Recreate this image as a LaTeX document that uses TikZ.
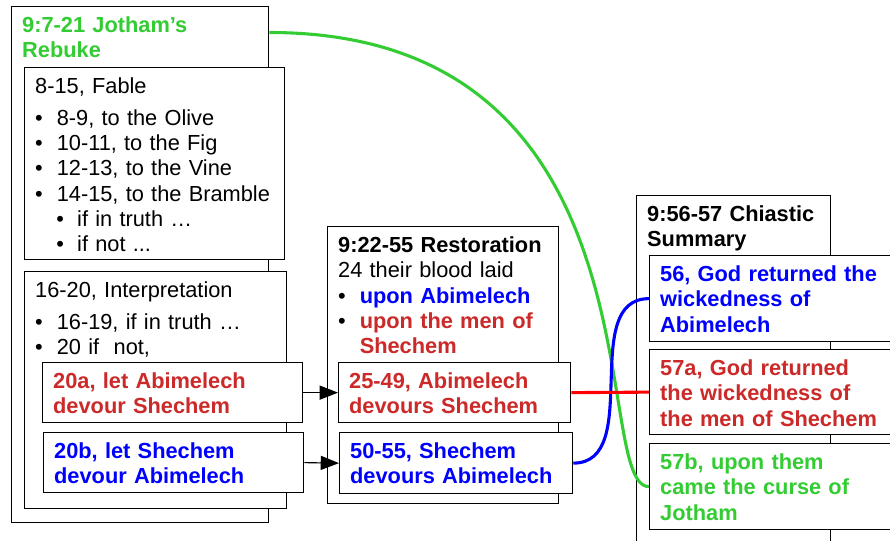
\documentclass[tikz,border=0pt]{standalone}
\usepackage{fontspec}
\setmainfont{Liberation Sans}
\usepackage{tikz}
\usetikzlibrary{arrows.meta}
\usepackage{xcolor}

\definecolor{rubricRed}{RGB}{204,41,41}
\definecolor{wickedBlue}{RGB}{0,0,255}
\definecolor{curseGreen}{RGB}{51,204,51}
\definecolor{lineRed}{RGB}{255,0,0}

\newcommand{\itemdot}{\makebox[0.54cm][l]{\textbullet}}
\newcommand{\itemgap}{\makebox[0.54cm][l]{}}
\newcommand{\subdot}{\hspace*{0.53cm}\makebox[0.52cm][l]{\textbullet}}

\tikzset{
  panel/.style 2 args={draw, line width=0.9pt, fill=white, anchor=north west, align=left,
    inner xsep=7.5pt, inner ysep=7.4pt, text height=11pt,
    text width=#1cm-15pt, text depth=#2cm-25.8pt,
    font=\fontsize{15.5pt}{18pt}\selectfont},
  link/.style={line width=2.2pt},
}

\begin{document}
\begin{tikzpicture}
        \useasboundingbox (0,0) rectangle (22.25,13.5);
        \clip (0,0) rectangle (22.25,13.5);

        % Jotham's Rebuke
        \node[panel={6.425}{12.9}, text=curseGreen, font=\fontsize{15.5pt}{18pt}\selectfont\bfseries] (jotham) at (0.275,13.35)
            {9:7-21 Jotham’s\\Rebuke};
        \node[panel={6.5}{4.8}] (fable) at (0.6,11.825)
            {8-15, Fable\\[4.5pt]
             \itemdot 8-9, to the Olive\\
             \itemdot 10-11, to the Fig\\
             \itemdot 12-13, to the Vine\\
             \itemdot 14-15, to the Bramble\\
             \subdot if in truth …\\
             \subdot if not ...};
        \node[panel={6.55}{5.925}] (interp) at (0.6,6.725)
            {16-20, Interpretation\\[4.5pt]
             \itemdot 16-19, if in truth …\\
             \itemdot 20 if \ not,};
        \node[panel={6.5}{1.5}, text=rubricRed, font=\fontsize{15.5pt}{18pt}\selectfont\bfseries] (let20a) at (1.05,4.45)
            {20a, let Abimelech\\devour Shechem};
        \node[panel={6.5}{1.5}, text=wickedBlue, font=\fontsize{15.5pt}{18pt}\selectfont\bfseries] (let20b) at (1.075,2.7)
            {20b, let Shechem\\devour Abimelech};

        % Restoration
        \node[panel={5.775}{6.925}] (restor) at (8.175,7.85)
            {\textbf{9:22-55 Restoration}\\
             24 their blood laid\\
             \itemdot\textcolor{wickedBlue}{\bfseries upon Abimelech}\\
             \itemdot\textcolor{rubricRed}{\bfseries upon the men of}\\
             \itemgap\textcolor{rubricRed}{\bfseries Shechem}};
        \node[panel={5.8}{1.5}, text=rubricRed, font=\fontsize{15.5pt}{18pt}\selectfont\bfseries] (dev2549) at (8.45,4.45)
            {25-49, Abimelech\\devours Shechem};
        \node[panel={5.825}{1.525}, text=wickedBlue, font=\fontsize{15.5pt}{18pt}\selectfont\bfseries] (dev5055) at (8.475,2.7)
            {50-55, Shechem\\devours Abimelech};

        % Chiastic Summary
        \node[panel={4.85}{9}, font=\fontsize{15.5pt}{18pt}\selectfont\bfseries] (summary) at (15.9,8.625)
            {9:56-57 Chiastic\\Summary};
        \node[panel={6.5}{2.15}, text=wickedBlue, font=\fontsize{15.5pt}{18pt}\selectfont\bfseries] (ret56) at (16.225,7.125)
            {56, God returned the\\wickedness of\\Abimelech};
        \node[panel={6.5}{2.125}, text=rubricRed, font=\fontsize{15.5pt}{18pt}\selectfont\bfseries] (ret57a) at (16.225,4.775)
            {57a, God returned\\the wickedness of\\the men of Shechem};
        \node[panel={6.5}{2.15}, text=curseGreen, font=\fontsize{15.5pt}{18pt}\selectfont\bfseries] (curse57b) at (16.225,2.425)
            {57b, upon them\\came the curse of\\Jotham};

        % arrows
        \draw[line width=0.8pt, -{Triangle[length=13pt,width=10pt]}] (let20a.east) -- (dev2549.west);
        \draw[line width=0.8pt, -{Triangle[length=13pt,width=10pt]}] (let20b.east) -- (dev5055.west);

        % links to the summary
        \draw[link, curseGreen] (jotham.east |- jotham.text) .. controls +(10,0) and +(-1.5,0) .. (curse57b.west);
        \draw[link, wickedBlue] (dev5055.east) to[out=0, in=180] (ret56.west);
        \draw[link, lineRed] (dev2549.east) -- (ret57a.west);
    \end{tikzpicture}
\end{document}
